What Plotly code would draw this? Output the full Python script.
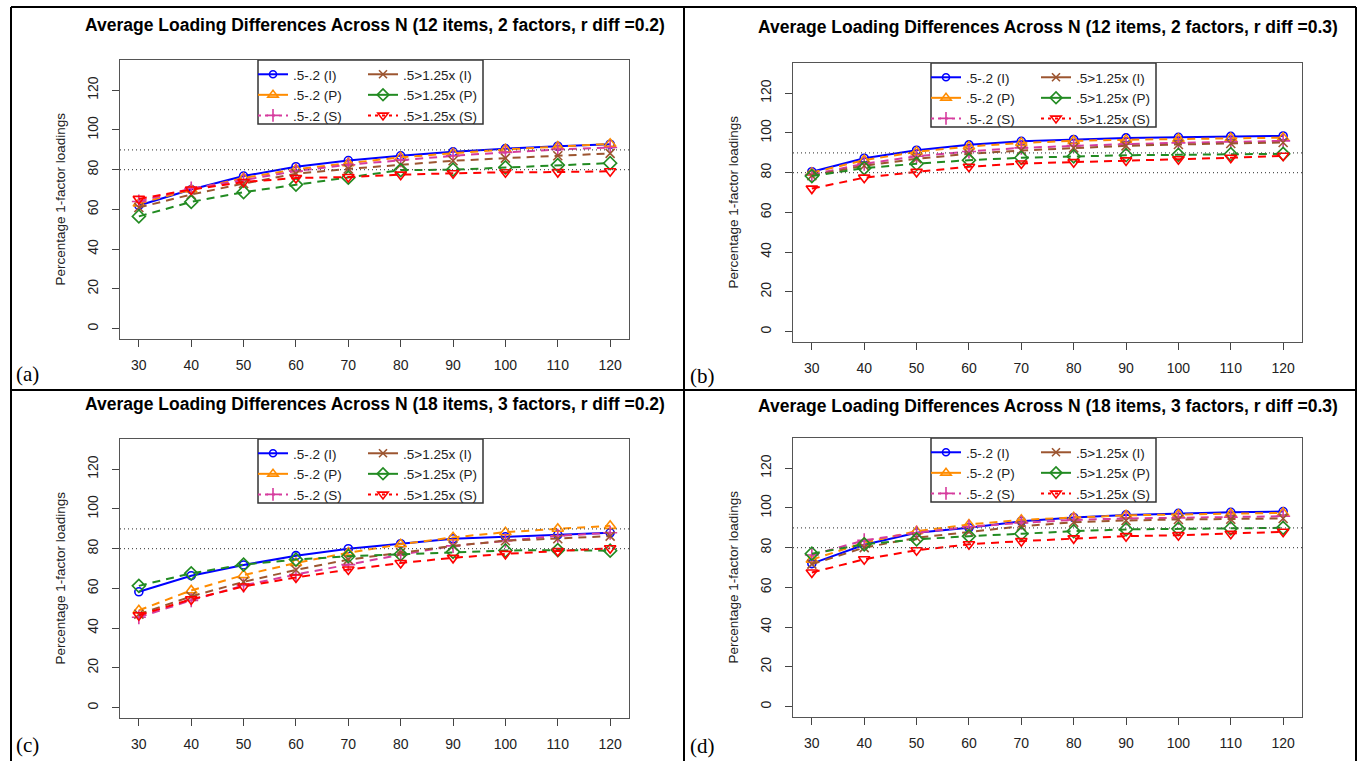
import plotly.graph_objects as go

W, H = 1360, 761

# ---------------- data ----------------
N = [30, 40, 50, 60, 70, 80, 90, 100, 110, 120]
x_tick_vals = [30, 40, 50, 60, 70, 80, 90, 100, 110, 120]
y_tick_vals = [0, 20, 40, 60, 80, 100, 120]
ref_lines = [80, 90]

series_names = [".5-.2 (I)", ".5-.2 (P)", ".5-.2 (S)",
                ".5>1.25x (I)", ".5>1.25x (P)", ".5>1.25x (S)"]

panel_titles = [
    "Average Loading Differences Across N (12 items, 2 factors, r diff =0.2)",
    "Average Loading Differences Across N (12 items, 2 factors, r diff =0.3)",
    "Average Loading Differences Across N (18 items, 3 factors, r diff =0.2)",
    "Average Loading Differences Across N (18 items, 3 factors, r diff =0.3)",
]
panel_tags = ["(a)", "(b)", "(c)", "(d)"]
y_label = "Percentage 1-factor loadings"

# panel (a): 12 items, 2 factors, r diff 0.2
a_I = [62.0, 70.0, 76.8, 81.5, 84.6, 87.0, 89.0, 90.6, 91.8, 92.8]
a_P = [63.0, 70.0, 75.8, 80.2, 83.3, 86.2, 88.3, 90.2, 91.6, 93.0]
a_S = [64.0, 70.5, 74.8, 79.3, 82.5, 84.8, 87.0, 88.7, 90.2, 91.2]
a_I2 = [61.0, 67.5, 73.0, 78.0, 80.4, 82.5, 84.5, 85.8, 87.0, 88.2]
a_P2 = [56.5, 63.8, 68.7, 72.5, 76.0, 79.8, 80.0, 81.2, 82.3, 83.3]
a_S2 = [65.3, 70.0, 73.8, 75.8, 76.3, 77.5, 78.2, 78.7, 78.8, 79.2]

# panel (b): 12 items, 2 factors, r diff 0.3
b_I = [80.5, 87.3, 91.3, 94.0, 95.8, 96.7, 97.5, 97.8, 98.3, 98.5]
b_P = [80.0, 86.3, 90.5, 93.2, 95.0, 96.0, 96.6, 97.0, 97.4, 97.6]
b_S = [79.0, 84.5, 88.3, 90.7, 92.5, 93.6, 94.4, 95.0, 95.5, 96.0]
b_I2 = [78.5, 83.5, 87.0, 89.5, 91.2, 92.5, 93.5, 94.2, 94.7, 95.2]
b_P2 = [78.3, 82.3, 84.5, 86.3, 87.5, 88.2, 88.8, 89.0, 89.3, 89.5]
b_S2 = [72.0, 77.5, 80.4, 83.0, 84.6, 85.3, 86.2, 86.8, 87.5, 88.5]

# panel (c): 18 items, 3 factors, r diff 0.2
c_I = [58.3, 66.4, 71.8, 76.5, 80.0, 82.5, 85.0, 86.0, 87.0, 88.0]
c_P = [49.0, 59.0, 66.7, 72.8, 78.0, 82.2, 85.7, 88.3, 90.0, 91.5]
c_S = [45.5, 54.0, 61.5, 67.0, 72.0, 77.0, 81.4, 84.0, 86.5, 88.0]
c_I2 = [47.0, 56.0, 63.3, 69.3, 74.5, 78.0, 81.4, 84.0, 85.0, 86.3]
c_P2 = [61.3, 67.6, 72.0, 74.5, 76.2, 77.2, 78.4, 79.1, 79.3, 79.0]
c_S2 = [46.5, 54.5, 61.0, 65.5, 69.5, 72.8, 75.4, 77.4, 78.8, 80.2]

# panel (d): 18 items, 3 factors, r diff 0.3
d_I = [72.0, 81.5, 87.5, 90.0, 93.3, 95.2, 96.5, 97.3, 97.8, 98.2]
d_P = [74.0, 82.5, 88.3, 91.7, 94.0, 95.3, 96.3, 96.7, 97.0, 97.5]
d_S = [76.3, 83.7, 87.5, 90.5, 92.5, 94.0, 94.7, 95.0, 95.3, 95.8]
d_I2 = [71.7, 80.0, 85.0, 88.0, 90.8, 92.8, 93.7, 94.2, 94.3, 94.7]
d_P2 = [77.0, 81.7, 84.2, 85.8, 87.0, 88.3, 89.2, 89.5, 89.7, 90.0]
d_S2 = [67.5, 74.2, 78.7, 81.7, 83.3, 84.7, 85.8, 86.3, 87.0, 88.0]

panels_data = [
    [a_I, a_P, a_S, a_I2, a_P2, a_S2],
    [b_I, b_P, b_S, b_I2, b_P2, b_S2],
    [c_I, c_P, c_S, c_I2, c_P2, c_S2],
    [d_I, d_P, d_S, d_I2, d_P2, d_S2],
]

# ---------------- styles ----------------
colors = ["#0000FF", "#FF8C00", "#D63C9E", "#9C5530", "#228B22", "#FF0000"]
symbols = ["circle-open", "triangle-up-open", "cross-thin-open",
           "x-thin-open", "diamond-open", "triangle-down-open"]
msizes = [8, 10, 10, 9, 10, 10]
plot_dash = ["solid", "8px,6px", "8px,6px", "8px,6px", "8px,6px", "8px,6px"]
legend_dash = ["solid", "solid", "3px,4px", "solid", "solid", "3px,4px"]

FONT = "Liberation Sans"

# plot boxes in pixels: (left, right, top, bottom)
boxes = [(120, 629, 60, 339), (793, 1302, 63, 342),
         (120, 629, 439, 718), (793, 1302, 438, 717)]
title_ys = [25, 27, 404, 406]
tag_pos = [(14, 374), (688, 376), (14, 745), (688, 746)]


def px(x):
    return x / W


def py(y):
    return 1 - y / H


fig = go.Figure()
layout = dict(
    width=W, height=H,
    margin=dict(l=0, r=0, t=0, b=0),
    paper_bgcolor="white", plot_bgcolor="white",
    showlegend=True,
    font=dict(family=FONT, color="#222"),
)
shapes = []
annotations = []

for i, data in enumerate(panels_data):
    k = "" if i == 0 else str(i + 1)
    l, r, t, b = boxes[i]
    layout["xaxis" + k] = dict(
        domain=[px(l), px(r)], range=[26.4, 123.6], anchor="y" + k,
        tickvals=x_tick_vals, ticks="outside", ticklen=7, tickwidth=1,
        tickcolor="#444", showline=True, mirror=True, linecolor="#555",
        linewidth=1, showgrid=False, zeroline=False,
        tickfont=dict(family=FONT, size=14, color="#222"),
        ticklabelstandoff=6,
    )
    layout["yaxis" + k] = dict(
        domain=[py(b), py(t)], range=[-5.2, 135.2], anchor="x" + k,
        tickvals=y_tick_vals, ticks="outside", ticklen=7, tickwidth=1,
        tickcolor="#444", showline=True, mirror=True, linecolor="#555",
        linewidth=1, showgrid=False, zeroline=False, tickangle=-90,
        tickfont=dict(family=FONT, size=14, color="#222"),
        ticklabelstandoff=8,
    )
    # dotted reference lines
    for v in ref_lines:
        shapes.append(dict(type="line", xref="x" + k + " domain", yref="y" + k,
                           x0=0, x1=1, y0=v, y1=v,
                           line=dict(color="#555", width=1.2, dash="1px,3px")))
    # data series
    for j, vals in enumerate(data):
        fig.add_trace(go.Scatter(
            x=N, y=vals, mode="lines+markers", name=series_names[j],
            xaxis="x" + k, yaxis="y" + k, showlegend=False,
            line=dict(color=colors[j], width=2, dash=plot_dash[j]),
            marker=dict(symbol=symbols[j], size=msizes[j], color=colors[j],
                        line=dict(color=colors[j], width=1.6)),
        ))
    # legend box
    lb_l = l + 138
    lb_r = lb_l + 225
    lb_t = t
    lb_b = t + 64
    shapes.append(dict(type="rect", xref="paper", yref="paper",
                       x0=px(lb_l), x1=px(lb_r), y0=py(lb_b), y1=py(lb_t),
                       line=dict(color="#333", width=1.5), fillcolor="white",
                       layer="below"))
    for col in range(2):
        n = 2 * i + col + 1
        lname = "legend" if n == 1 else "legend" + str(n)
        lx = lb_l - 5 + col * 110
        layout[lname] = dict(
            x=px(lx), y=py(lb_t - 1), xanchor="left", yanchor="top",
            bgcolor="rgba(0,0,0,0)", borderwidth=0, tracegroupgap=0,
            font=dict(family=FONT, size=13.5, color="#222"),
            itemclick=False, itemdoubleclick=False,
        )
        for j in range(col * 3, col * 3 + 3):
            fig.add_trace(go.Scatter(
                x=[None], y=[None], mode="lines+markers", name=series_names[j],
                xaxis="x" + k, yaxis="y" + k, showlegend=True, legend=lname,
                line=dict(color=colors[j], width=2, dash=legend_dash[j]),
                marker=dict(symbol=symbols[j], size=msizes[j] - 1, color=colors[j],
                            line=dict(color=colors[j], width=1.6)),
            ))
    # title
    annotations.append(dict(
        text=panel_titles[i], xref="paper", yref="paper",
        x=px((l + r) / 2), y=py(title_ys[i]), xanchor="center", yanchor="middle",
        showarrow=False, font=dict(family=FONT, size=17.5, color="black", weight="bold"),
    ))
    # y axis label
    annotations.append(dict(
        text=y_label, xref="paper", yref="paper", textangle=-90,
        x=px(l - 60), y=py((t + b) / 2), xanchor="center", yanchor="middle",
        showarrow=False, font=dict(family=FONT, size=13.5, color="#222"),
    ))
    # panel tag
    tx, ty = tag_pos[i]
    annotations.append(dict(
        text=panel_tags[i], xref="paper", yref="paper",
        x=px(tx), y=py(ty), xanchor="left", yanchor="middle",
        showarrow=False, font=dict(family="Liberation Serif", size=21, color="black"),
    ))

# table borders
border_lines = [
    (11, 7, 1356, 7), (11, 7, 11, 761), (1356, 7, 1356, 761),
    (684, 7, 684, 761), (11, 390, 1356, 390),
]
for x0, y0, x1, y1 in border_lines:
    shapes.append(dict(type="line", xref="paper", yref="paper",
                       x0=px(x0), x1=px(x1), y0=py(y0), y1=py(y1),
                       line=dict(color="black", width=2)))

layout["shapes"] = shapes
layout["annotations"] = annotations
fig.update_layout(**layout)

fig.write_html("out.html", include_plotlyjs=True,
               config={"displayModeBar": False},
               post_script="document.body.style.margin='0';document.body.style.overflow='hidden';")
